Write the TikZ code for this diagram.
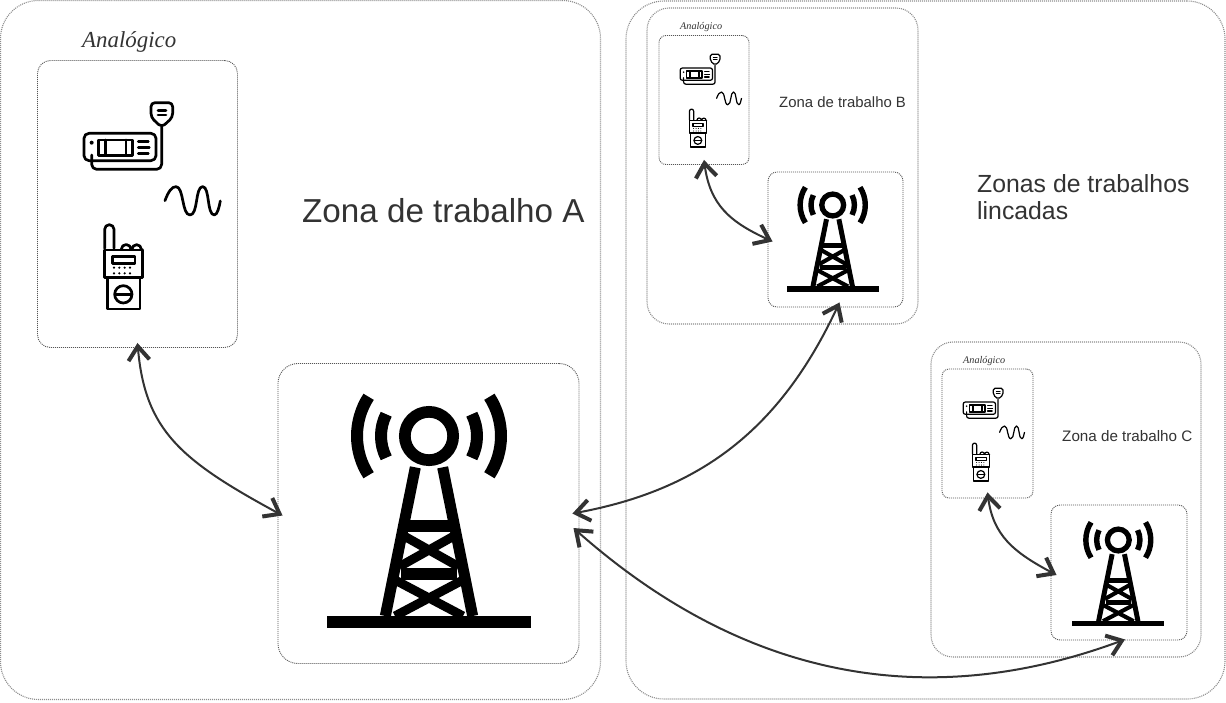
\documentclass[tikz,border=0pt]{standalone}
\usepackage{fontspec}
\setmainfont{Liberation Sans}
\newfontfamily\serifit[ItalicFont=Liberation Serif Italic]{Liberation Serif}
\usetikzlibrary{arrows.meta,calc}
\definecolor{ink}{HTML}{333333}
\definecolor{dotouter}{HTML}{8C8C8C}
\definecolor{dotinner}{HTML}{555555}
\tikzset{
  zonebox/.style={draw=dotouter,line width=1.1pt,dash pattern=on 1pt off 1pt,rounded corners=#1,inner sep=0pt,fill=none},
  innerbox/.style={draw=dotinner,line width=.9pt,dash pattern=on 1pt off 1pt,rounded corners=#1,inner sep=0pt},
  link/.style={draw=ink,line width=2pt,{Straight Barb[length=14pt,width=21pt,line width=4pt]}-{Straight Barb[length=14pt,width=21pt,line width=4pt]}},
  linkone/.style={draw=ink,line width=2pt,-{Straight Barb[length=14pt,width=21pt,line width=4pt]}},
  label/.style={anchor=base west,inner sep=0pt,text=#1},
  label/.default=ink
}
\newcommand{\sanssize}[1]{\fontsize{#1}{#1}\selectfont}
\newcommand{\analogset}[3]{%
\begin{scope}[shift={(#1,#2)},scale=#3,black,line cap=round,line join=round,line width=#3*2.7pt]
\begin{scope}[shift={(-37,-60)}]
 % radio
 \begin{scope}[shift={(70,90)},scale=.3333]
  \draw[rounded corners=#3*5pt] (42,130) rectangle (258,212);
  \draw (85,150) rectangle (187,196);
  \draw (107,150) -- (107,196) (168,150) -- (168,196);
  \draw (205,155) -- (235,155) (205,172) -- (238,172) (205,190) -- (235,190);
  \fill (65,158) circle (6);
  \draw[rounded corners=#3*5pt] (65,195) -- (65,238) -- (275,238) -- (275,112);
  \draw[rounded corners=#3*4pt] (243,38) -- (308,38) -- (308,82) -- (275,112) -- (243,82) -- cycle;
  \draw (264,62) -- (288,62) (264,75) -- (288,75);
 \end{scope}
 % wave
 \begin{scope}[shift={(30,20)},scale=.3333]
  \draw (405,542) .. controls (415,515) and (425,500) .. (438,500) .. controls (462,500) and (455,585) .. (480,585) .. controls (505,585) and (495,500) .. (518,500) .. controls (540,500) and (530,585) .. (553,585) .. controls (562,585) and (568,560) .. (571,543);
 \end{scope}
 % walkie-talkie
 \begin{scope}[shift={(90,215)},scale=.3333]
  \draw (44,100) -- (44,43) arc (180:360:14) -- (72,100);
  \draw (44,105) rectangle (158,188);
  \draw (94,103) arc (180:360:14.5) (126,103) arc (180:360:14) -- (158,105);
  \draw (52,188) rectangle (150,282);
  \draw (68,124) rectangle (135,145);
  \foreach \dx in {72,88,104,120}{\fill (\dx,158) circle (3.6); \fill (\dx,175) circle (3.6);}
  \draw (100,238) circle (26);
  \draw (76,238) -- (124,238);
 \end{scope}
\end{scope}
\end{scope}}
\newcommand{\towerpic}[3]{%
\begin{scope}[shift={(#1,#2)},scale=#3*.3333,black,line cap=butt,line join=miter]
 \begin{scope}[shift={(-387,-168)}]
  \fill (81,708) rectangle (692,743);
  \draw[line width=#3*11.7pt] (387,168) circle (72.5);
  \draw[line width=#3*11pt] (346,262) -- (256,708) (428,262) -- (518,708);
  \draw[line width=#3*12pt] (320,438) -- (454,438) (302,582) -- (472,582);
  \draw[line width=#3*9pt] (298,460) -- (476,560) (476,460) -- (298,560);
  \draw[line width=#3*9pt] (285,600) -- (489,708) (489,600) -- (285,708);
  \foreach \ra/\ang in {144/27,216/33}{
   \draw[line width=#3*12pt] ($(387,168)+(180-\ang:\ra)$) arc (180-\ang:180+\ang:\ra);
   \draw[line width=#3*12pt] ($(387,168)+(-\ang:\ra)$) arc (-\ang:\ang:\ra);
  }
 \end{scope}
\end{scope}}
\begin{document}
\begin{tikzpicture}[x=1pt,y=-1pt]
\useasboundingbox (0,0) rectangle (1226,702);
\fill[white] (0,0) rectangle (1226,702);
% outer zones
\node[zonebox=38pt,minimum width=600pt,minimum height=699pt] (zoneA) at (300.5,350) {};
\node[zonebox=38pt,minimum width=599pt,minimum height=698pt] (zoneLinked) at (925.5,350) {};
\node[zonebox=22pt,minimum width=271pt,minimum height=316pt] (zoneB) at (782.5,166) {};
\node[zonebox=22pt,minimum width=270pt,minimum height=315pt] (zoneC) at (1066,499.5) {};
% inner boxes
\node[innerbox=13pt,minimum width=200pt,minimum height=287pt] (analogA) at (137.5,204) {};
\node[innerbox=20pt,minimum width=301pt,minimum height=300pt] (towerA) at (428.5,513.5) {};
\node[innerbox=7pt,minimum width=90pt,minimum height=129pt] (analogB) at (704,100) {};
\node[innerbox=9pt,minimum width=135pt,minimum height=135pt] (towerB) at (835.5,239.5) {};
\node[innerbox=7pt,minimum width=91pt,minimum height=129pt] (analogC) at (987.5,433.5) {};
\node[innerbox=9pt,minimum width=136pt,minimum height=135pt] (towerC) at (1119,572.5) {};
% icons
\analogset{37}{60}{1}
\analogset{659}{35}{.45}
\analogset{942}{369}{.45}
\towerpic{429}{436}{1}
\towerpic{832.7}{205}{.4525}
\towerpic{1118.3}{540}{.451}
% texts
\node[label] (tA) at (302,222) {\sanssize{33.2}Zona de trabalho A};
\node[label] (tB) at (779,107) {\sanssize{14.9}Zona de trabalho B};
\node[label] (tC) at (1062,441) {\sanssize{15.2}Zona de trabalho C};
\node[label] (tL1) at (977,192) {\sanssize{24.8}Zonas de trabalhos};
\node[label] (tL2) at (977,219) {\sanssize{24.8}lincadas};
\node[label] (aA) at (82,47) {\serifit\itshape\sanssize{22.9}Analógico};
\node[label] (aB) at (680,29) {\serifit\itshape\sanssize{10.2}Analógico};
\node[label] (aC) at (963,363) {\serifit\itshape\sanssize{10.2}Analógico};
% connectors
\draw[link] ([yshift=5pt]analogA.south) .. controls (145,430) and (180,460) .. ([xshift=5pt,yshift=-2pt]towerA.west);
\draw[link] ([yshift=5pt]analogB.south) .. controls (710,205) and (730,222) .. ([xshift=5pt,yshift=-2pt]towerB.west);
\draw[link] ([yshift=6pt]analogC.south) .. controls (993,535) and (1013,552) .. ([xshift=6pt,yshift=-2.5pt]towerC.west);
\draw[link] ([xshift=-7pt]towerA.east) .. controls (700,490) and (780,430) .. ([xshift=4pt,yshift=5pt]towerB.south);
\draw[link] ([xshift=-6pt,yshift=-14.5pt]towerA.east) .. controls (700,640) and (880,730) .. ([xshift=6pt,yshift=1pt]towerC.south);
\end{tikzpicture}
\end{document}
